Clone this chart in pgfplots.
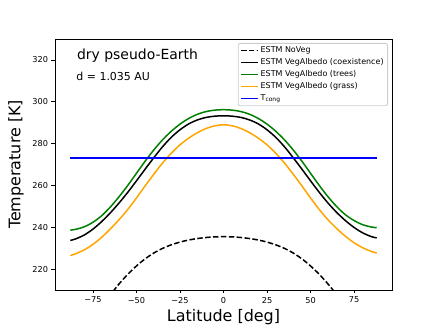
\documentclass[border=0pt]{standalone}
\usepackage{fontspec}
\setmainfont{DejaVu Sans}
\usepackage{pgfplots}
\pgfplotsset{compat=1.18}
\usepackage{pgfplotstable}

\definecolor{mplgreen}{HTML}{008000}
\definecolor{mplorange}{HTML}{FFA500}
\definecolor{mplblue}{HTML}{0000FF}
\definecolor{legendedge}{HTML}{CCCCCC}

% latitude profiles
\pgfplotstableread{
lat  noveg coex  trees grass
-88  182.0 233.7 238.6 226.5
-85  184.9 234.4 239.0 227.3
-80  190.4 236.3 240.2 229.2
-75  196.3 239.1 242.4 231.8
-70  202.0 242.7 245.5 235.2
-65  207.6 246.9 249.7 239.2
-60  212.9 251.6 254.6 243.6
-55  217.5 256.7 260.0 248.5
-50  221.5 262.2 265.8 254.0
-45  224.9 267.8 271.6 259.8
-40  227.7 273.3 277.0 265.4
-35  229.9 278.5 281.8 270.7
-30  231.6 283.0 285.9 275.4
-25  232.9 286.6 289.3 279.4
-20  233.9 289.4 292.0 282.6
-15  234.6 291.3 294.0 285.2
-10  235.1 292.5 295.3 287.2
-5   235.4 293.1 296.0 288.5
0    235.5 293.3 296.2 289.0
5    235.4 293.1 296.0 288.5
10   235.1 292.5 295.3 287.2
15   234.6 291.3 294.0 285.2
20   233.9 289.4 292.0 282.6
25   232.9 286.6 289.3 279.4
30   231.6 283.0 285.9 275.4
35   229.9 278.5 281.8 270.7
40   227.7 273.3 277.0 265.4
45   224.9 267.8 271.6 259.8
50   221.5 262.2 265.8 254.0
55   217.5 256.7 260.0 248.5
60   212.9 251.6 254.6 243.6
65   207.8 247.1 249.9 239.4
70   202.4 243.2 246.0 235.7
75   196.9 239.9 243.2 232.6
80   191.4 237.3 241.2 230.2
85   186.0 235.5 240.1 228.4
88   183.0 234.9 239.8 227.7
}\profiles

\begin{document}
\begin{tikzpicture}
\path[use as bounding box] (0,0) rectangle (436bp,327bp);
\begin{axis}[
  at={(55bp,37bp)}, anchor=south west,
  scale only axis,
  width=337bp, height=251bp,
  xmin=-96.8, xmax=96.8,
  ymin=210, ymax=330,
  xtick={-75,-50,-25,0,25,50,75},
  xticklabels={−75,−50,−25,0,25,50,75},
  ytick={220,240,...,320},
  tick align=outside,
  major tick length=3.5bp,
  tick style={black, line width=0.8bp},
  xtick pos=bottom, ytick pos=left,
  axis line style={black, line width=0.8bp},
  ticklabel style={font=\fontsize{8.2}{10}\selectfont},
  /pgf/number format/assume math mode=true,
  xlabel={Latitude [deg]},
  ylabel={Temperature [K]},
  label style={font=\fontsize{16}{19}\selectfont},
  xlabel style={at={(axis description cs:0.5,-0.078)}, anchor=north, inner sep=0pt},
  ylabel style={at={(axis description cs:-0.092,0.5)}, anchor=south, inner sep=0pt},
  legend cell align=left,
  legend style={at={(axis description cs:1,1)}, anchor=north east,
    xshift=-4bp, yshift=-4bp,
    draw=legendedge, rounded corners=2bp, line width=0.8bp,
    font=\fontsize{8}{9.6}\selectfont, row sep=0.5bp,
    inner xsep=2bp, inner ysep=1.5bp},
  every axis plot/.append style={line width=1.5bp},
]
\addplot[black, dash pattern=on 5.5bp off 2.4bp, smooth] table[x=lat, y=noveg] {\profiles};
\addlegendentry{ESTM NoVeg}
\addplot[black, smooth] table[x=lat, y=coex] {\profiles};
\addlegendentry{ESTM VegAlbedo (coexistence)}
\addplot[mplgreen, smooth] table[x=lat, y=trees] {\profiles};
\addlegendentry{ESTM VegAlbedo (trees)}
\addplot[mplorange, smooth] table[x=lat, y=grass] {\profiles};
\addlegendentry{ESTM VegAlbedo (grass)}
\addplot[mplblue] coordinates {(-88,273.15) (88,273.15)};
\addlegendentry{T\textsubscript{cong}}

\node[anchor=west, inner sep=0pt, font=\fontsize{14}{17}\selectfont]
  at (rel axis cs:0.065,0.932) {dry pseudo-Earth};
\node[anchor=west, inner sep=0pt, font=\fontsize{11}{13}\selectfont]
  at (rel axis cs:0.063,0.849) {d = 1.035 AU};
\end{axis}
\end{tikzpicture}
\end{document}
